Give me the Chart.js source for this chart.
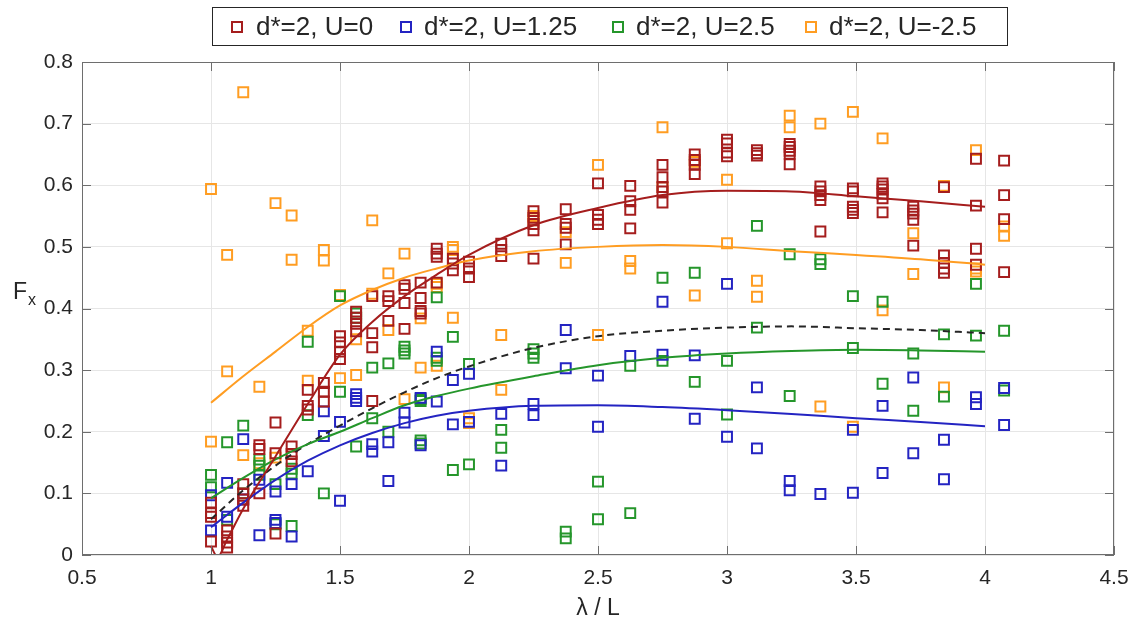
<!DOCTYPE html>
<html><head><meta charset="utf-8">
<script src="https://cdn.jsdelivr.net/npm/chart.js@4.4.0/dist/chart.umd.min.js"></script>
<style>html,body{margin:0;padding:0;background:#fff;}canvas{display:block;}</style>
</head><body>
<canvas id="c" width="1140" height="623"></canvas>
<script>
// λ/L columns where measurements were taken
const lambdaCols = [1.0, 1.0625, 1.125, 1.1875, 1.25, 1.3125, 1.375, 1.4375, 1.5, 1.5625, 1.625, 1.6875, 1.75, 1.8125, 1.875, 1.9375, 2.0, 2.125, 2.25, 2.375, 2.5, 2.625, 2.75, 2.875, 3.0, 3.116, 3.243, 3.362, 3.488, 3.603, 3.722, 3.841, 3.965, 4.074];

// Fx measurements per column (U = 0)
const fxU0 = [[0.085,0.068,0.062,0.022],[0.04,0.03,0.02,0.012],[0.115,0.1,0.09,0.08],[0.178,0.172,0.1],[0.215,0.165,0.035],[0.176,0.164,0.152],[0.268,0.242,0.236],[0.279,0.265,0.249],[0.355,0.345,0.33,0.318],[0.395,0.385,0.375,0.363],[0.42,0.36,0.337,0.25],[0.42,0.412,0.38],[0.438,0.432,0.409,0.367],[0.442,0.417,0.396,0.392],[0.497,0.489,0.484,0.442],[0.481,0.473,0.462],[0.476,0.465,0.451],[0.505,0.495,0.485],[0.558,0.547,0.537,0.527,0.481],[0.561,0.537,0.531,0.504],[0.603,0.552,0.544,0.537],[0.599,0.574,0.56,0.53],[0.633,0.613,0.597,0.59,0.572],[0.65,0.641,0.633,0.618],[0.674,0.668,0.653,0.647],[0.657,0.652,0.648],[0.667,0.662,0.656,0.651,0.634],[0.598,0.59,0.584,0.576,0.525],[0.595,0.59,0.565,0.56,0.555],[0.603,0.598,0.593,0.586,0.579,0.556],[0.565,0.559,0.554,0.544,0.502],[0.597,0.486,0.474,0.465,0.458],[0.643,0.567,0.497,0.471],[0.64,0.584,0.545,0.459]];
// U = 1.25
const fxU125 = [[0.097,0.04],[0.117,0.062],[0.188,0.09],[0.122,0.032],[0.103,0.057,0.052],[0.115,0.03],[0.136],[0.233,0.193],[0.216,0.088],[0.261,0.255,0.25],[0.18,0.168],[0.183,0.12],[0.231,0.215],[0.255,0.178],[0.33,0.249],[0.284,0.212],[0.294,0.216],[0.229,0.145],[0.245,0.227],[0.365,0.303],[0.291,0.208],[0.323],[0.411,0.325],[0.324,0.221],[0.44,0.192],[0.272,0.173],[0.12,0.105],[0.099],[0.203,0.101],[0.242,0.133],[0.288,0.165],[0.187,0.123],[0.256,0.245],[0.271,0.211]];
// U = 2.5
const fxU25 = [[0.13,0.11],[0.183,0.057],[0.21,0.1],[0.155,0.145,0.13],[0.115,0.05],[0.14,0.132,0.047],[0.346,0.227],[0.1],[0.42,0.265],[0.392,0.385,0.176],[0.304,0.222],[0.311,0.2],[0.338,0.332,0.327],[0.253,0.25,0.186,0.181],[0.418,0.32,0.315],[0.354,0.138],[0.31,0.147],[0.203,0.174],[0.334,0.327,0.32],[0.038,0.027],[0.119,0.058],[0.307,0.068],[0.45,0.315],[0.458,0.281],[0.315,0.228],[0.534,0.369],[0.488,0.258],[0.48,0.472],[0.42,0.336],[0.411,0.278],[0.327,0.234],[0.358,0.257],[0.44,0.356],[0.364,0.267]];
// U = -2.5
const fxUm25 = [[0.594,0.184],[0.487,0.298],[0.751,0.162],[0.273,0.149],[0.571,0.158],[0.551,0.479],[0.364,0.283],[0.495,0.478],[0.422,0.287],[0.35,0.292],[0.543,0.424],[0.457,0.365],[0.489,0.253],[0.384,0.304],[0.44,0.435,0.307],[0.5,0.495,0.385],[0.222,0.214],[0.357,0.268],[0.55,0.543],[0.524,0.474],[0.633,0.357],[0.477,0.465],[0.694,0.597],[0.638,0.421],[0.609,0.506],[0.445,0.419],[0.713,0.694],[0.7,0.241],[0.719,0.208],[0.676,0.397],[0.522,0.456],[0.599,0.272],[0.657,0.465,0.46],[0.533,0.518]];

// fitted curves
const fitU0X = [1.0, 1.025, 1.0625, 1.125, 1.25, 1.375, 1.5, 1.625, 1.75, 1.875, 2.0, 2.25, 2.5, 2.75, 3.0, 3.25, 3.5, 3.75, 4.0];
const fitU0  = [0.014, -0.003, 0.025, 0.075, 0.16, 0.245, 0.325, 0.378, 0.42, 0.455, 0.487, 0.535, 0.563, 0.584, 0.591, 0.59, 0.582, 0.574, 0.565];
const fitX   = [1.0, 1.125, 1.25, 1.375, 1.5, 1.625, 1.75, 1.875, 2.0, 2.25, 2.5, 2.75, 3.0, 3.25, 3.5, 3.75, 4.0];
const fitU125 = [0.045, 0.085, 0.122, 0.153, 0.178, 0.198, 0.214, 0.226, 0.234, 0.242, 0.243, 0.24, 0.235, 0.229, 0.222, 0.216, 0.209];
const fitU25  = [0.092, 0.125, 0.155, 0.18, 0.2, 0.222, 0.243, 0.258, 0.27, 0.29, 0.308, 0.32, 0.327, 0.331, 0.333, 0.332, 0.33];
const fitUm25 = [0.247, 0.29, 0.33, 0.37, 0.405, 0.43, 0.45, 0.465, 0.478, 0.493, 0.5, 0.503, 0.5, 0.493, 0.487, 0.48, 0.471];
const fitMean = [0.058, 0.105, 0.145, 0.18, 0.21, 0.238, 0.264, 0.287, 0.306, 0.336, 0.355, 0.364, 0.369, 0.371, 0.368, 0.365, 0.36];

const xTicks = [0.5, 1, 1.5, 2, 2.5, 3, 3.5, 4, 4.5];
const yTicks = [0, 0.1, 0.2, 0.3, 0.4, 0.5, 0.6, 0.7, 0.8];
const seriesLabels = ['d*=2, U=0', 'd*=2, U=1.25', 'd*=2, U=2.5', 'd*=2, U=-2.5'];

const COLORS = ['#A51D1D', '#2424C2', '#25962B', '#FF9D22'];
const FONT = '"Liberation Sans", Arial, Helvetica, sans-serif';

function toPoints(cols, groups) {
  const pts = [];
  groups.forEach((g, i) => g.forEach(v => pts.push({ x: cols[i], y: v })));
  return pts;
}
function toLine(xs, ys) { return xs.map((x, i) => ({ x: x, y: ys[i] })); }

const scatterSets = [fxU0, fxU125, fxU25, fxUm25].map((g, i) => ({
  label: seriesLabels[i],
  data: toPoints(lambdaCols, g),
  pointStyle: 'rect',
  pointRadius: 7,
  pointBorderWidth: 2,
  borderColor: COLORS[i],
  backgroundColor: 'rgba(0,0,0,0)',
  showLine: false,
  order: 2
}));
const fits = [[fitU0X, fitU0], [fitX, fitU125], [fitX, fitU25], [fitX, fitUm25]];
const lineSets = fits.map((f, i) => ({
  label: 'fit ' + seriesLabels[i],
  data: toLine(f[0], f[1]),
  showLine: true,
  pointRadius: 0,
  borderColor: COLORS[i],
  borderWidth: 2,
  cubicInterpolationMode: 'monotone',
  fill: false,
  order: 1
}));
lineSets.push({
  label: 'mean fit',
  data: toLine(fitX, fitMean),
  showLine: true,
  pointRadius: 0,
  borderColor: '#262626',
  borderWidth: 2,
  borderDash: [7, 5],
  cubicInterpolationMode: 'monotone',
  fill: false,
  order: 1
});

const decor = {
  id: 'decor',
  afterDraw(chart) {
    const ctx = chart.ctx;
    const a = chart.chartArea;
    const xs = chart.scales.x, ys = chart.scales.y;
    ctx.save();
    // frame
    ctx.strokeStyle = '#6e6e6e';
    ctx.lineWidth = 1;
    ctx.strokeRect(a.left + 0.5, a.top + 0.5, a.right - a.left - 1, a.bottom - a.top - 1);
    // inward ticks
    ctx.beginPath();
    const tl = 9;
    xTicks.forEach(v => {
      const px = Math.round(xs.getPixelForValue(v)) + 0.5;
      ctx.moveTo(px, a.bottom); ctx.lineTo(px, a.bottom - tl);
      ctx.moveTo(px, a.top); ctx.lineTo(px, a.top + tl);
    });
    yTicks.forEach(v => {
      const py = Math.round(ys.getPixelForValue(v)) + 0.5;
      ctx.moveTo(a.left, py); ctx.lineTo(a.left + tl, py);
      ctx.moveTo(a.right, py); ctx.lineTo(a.right - tl, py);
    });
    ctx.stroke();

    // axis titles
    ctx.fillStyle = '#262626';
    ctx.textBaseline = 'alphabetic';
    ctx.font = '23px ' + FONT;
    ctx.textAlign = 'center';
    ctx.fillText('\u03BB / L', (a.left + a.right) / 2, 615);
    ctx.textAlign = 'left';
    ctx.font = '23px ' + FONT;
    ctx.fillText('F', 13, 299);
    ctx.font = '16px ' + FONT;
    ctx.fillText('x', 28, 305);

    // legend box
    const bx = 212, by = 7, bw = 795, bh = 38;
    ctx.fillStyle = '#ffffff';
    ctx.fillRect(bx, by, bw, bh);
    ctx.strokeStyle = '#262626';
    ctx.lineWidth = 1;
    ctx.strokeRect(bx + 0.5, by + 0.5, bw, bh);
    const markerX = [237, 406, 618, 811];
    const textX = [256, 424, 636, 829];
    const cy = by + bh / 2 + 1;
    ctx.font = '26px ' + FONT;
    ctx.textBaseline = 'middle';
    seriesLabels.forEach((lab, i) => {
      ctx.strokeStyle = COLORS[i];
      ctx.lineWidth = 2;
      ctx.strokeRect(markerX[i] - 5, cy - 5, 10, 10);
      ctx.fillStyle = '#262626';
      ctx.fillText(lab, textX[i], cy + 1);
    });
    ctx.restore();
  }
};

new Chart(document.getElementById('c'), {
  type: 'scatter',
  data: { datasets: scatterSets.concat(lineSets) },
  options: {
    responsive: false,
    animation: false,
    events: [],
    devicePixelRatio: 1,
    layout: { padding: { top: 62, right: 26, bottom: 0, left: 0 } },
    plugins: { legend: { display: false }, tooltip: { enabled: false } },
    scales: {
      x: {
        type: 'linear', min: 0.5, max: 4.5,
        afterBuildTicks: s => { s.ticks = xTicks.map(v => ({ value: v })); },
        ticks: { color: '#262626', font: { size: 21, family: FONT }, padding: 11, maxRotation: 0, autoSkip: false,
                 callback: v => String(v) },
        grid: { color: '#e6e6e6', lineWidth: 1, drawTicks: false },
        border: { display: false },
        afterFit: s => { s.height = 68; }
      },
      y: {
        type: 'linear', min: 0, max: 0.8,
        afterBuildTicks: s => { s.ticks = yTicks.map(v => ({ value: v })); },
        ticks: { color: '#262626', font: { size: 21, family: FONT }, padding: 9, autoSkip: false,
                 callback: v => String(v) },
        grid: { color: '#e6e6e6', lineWidth: 1, drawTicks: false },
        border: { display: false },
        afterFit: s => { s.width = 82; }
      }
    }
  },
  plugins: [decor]
});
</script>
</body></html>
